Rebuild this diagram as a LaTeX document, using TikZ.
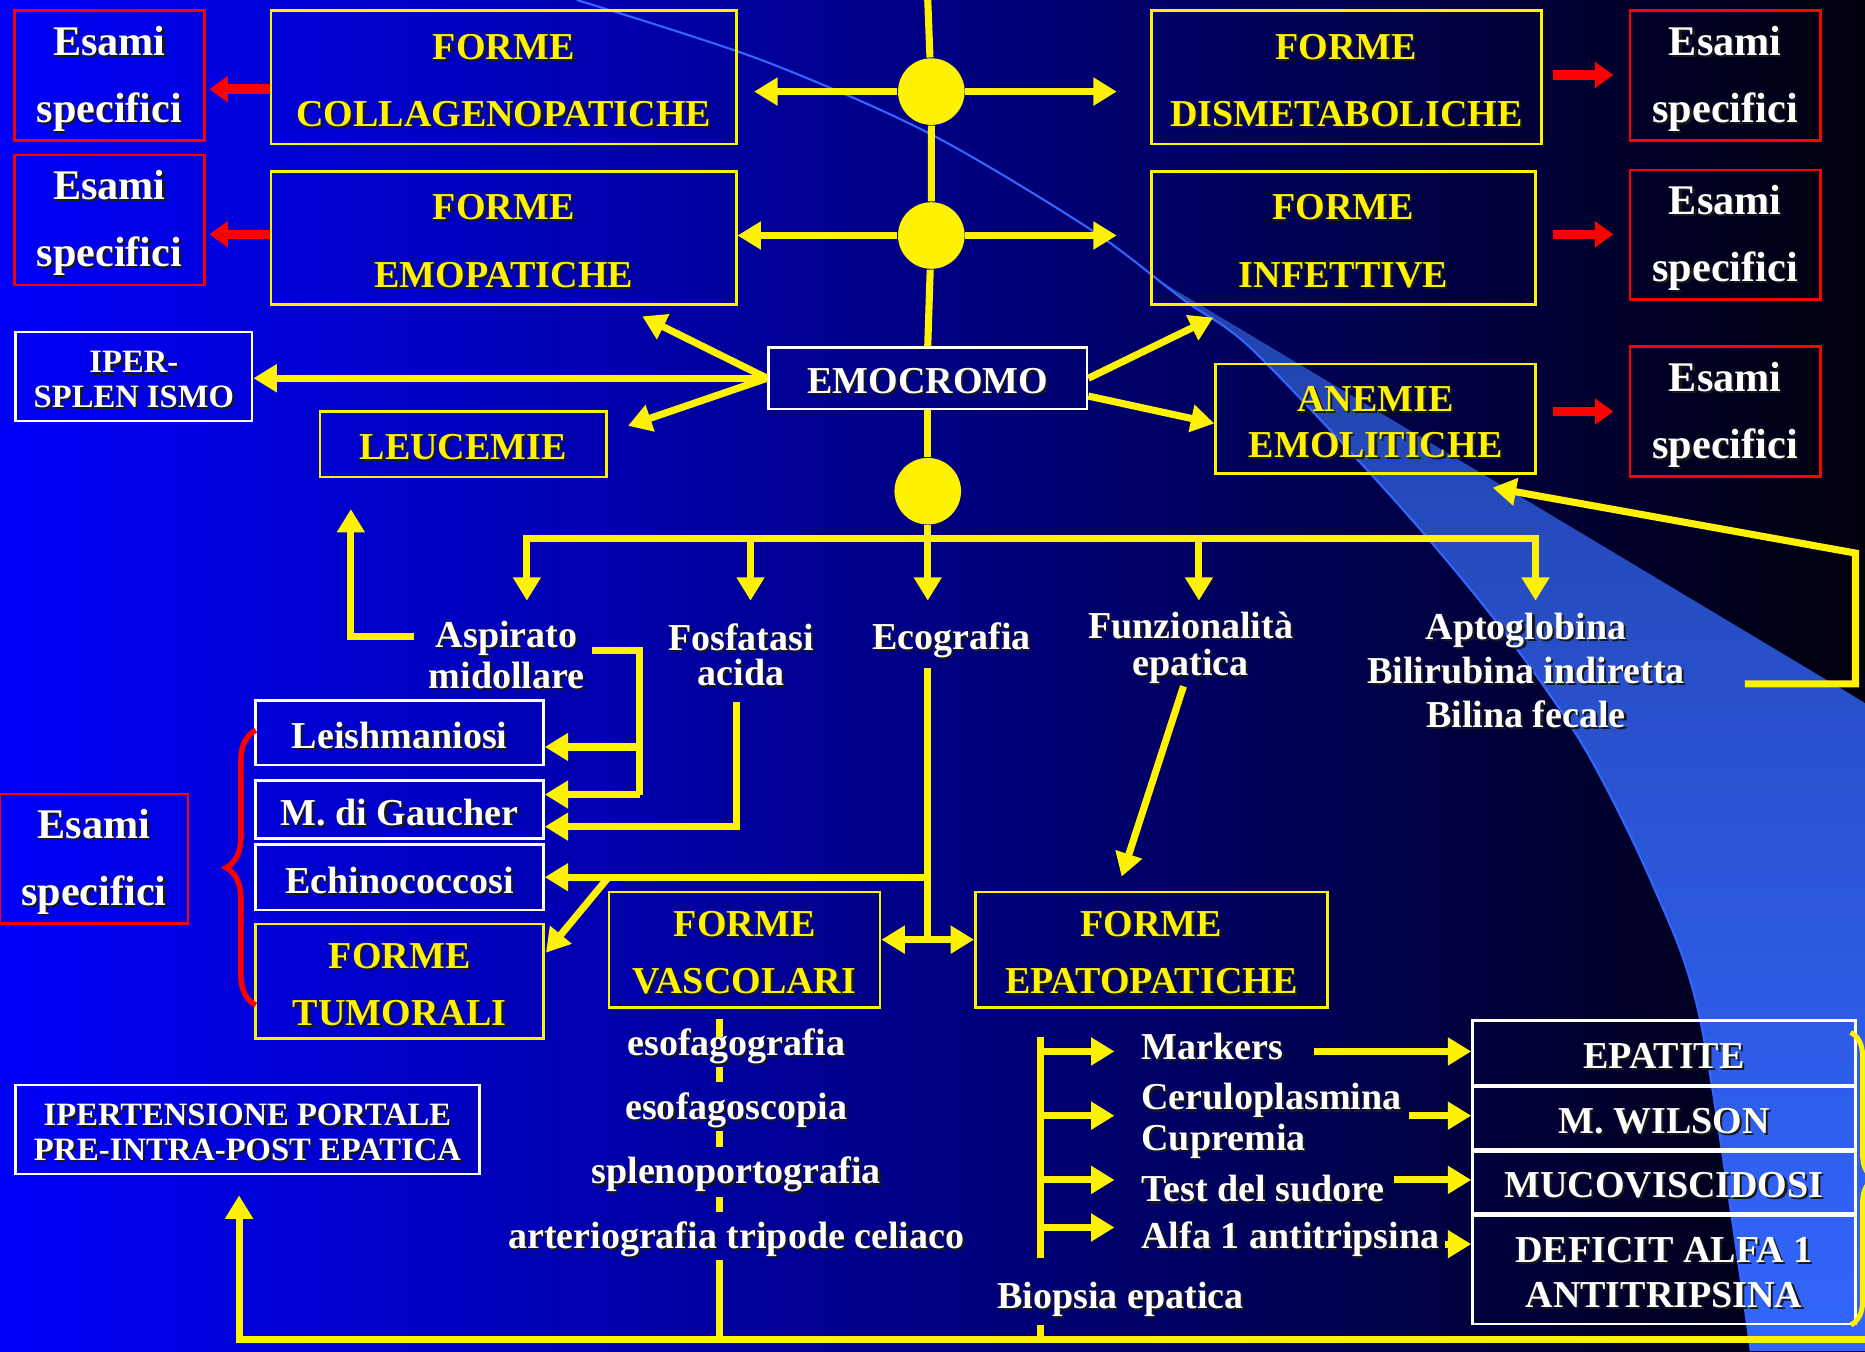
\documentclass[tikz,border=0pt]{standalone}
\usepackage{fontspec}
\setmainfont{Liberation Serif}
\usetikzlibrary{arrows.meta,decorations.pathreplacing}

\definecolor{bgleft}{RGB}{0,0,250}
\definecolor{bgmid}{RGB}{0,0,172}
\definecolor{bgright}{RGB}{0,0,12}
\definecolor{band}{RGB}{51,102,255}
\definecolor{txtshadow}{RGB}{25,25,25}

\newcommand{\shd}[1]{\leavevmode\raisebox{-1pt}[\height][\depth]{\rlap{\kern.5pt\raisebox{-.5pt}{\color{txtshadow}#1}}#1}}

\tikzset{ytip/.tip={Triangle[length=5.6pt,width=6.4pt]}}
\tikzset{rtip/.tip={Triangle[length=4.4pt,width=6pt]}}
\tikzset{yline/.style={yellow, line width=1.7pt}}
\tikzset{yarrow/.style={yline, -ytip}}
\tikzset{rarrow/.style={red, line width=2.3pt, -rtip}}
\tikzset{box/.style={line width=0.6pt, inner sep=0pt, align=center}}
\tikzset{ybox/.style={box, draw=yellow, text=yellow, font=\bfseries\fontsize{9.1}{16.2}\selectfont}}
\tikzset{wbox/.style={box, draw=white, text=white, font=\bfseries\fontsize{9.1}{10}\selectfont}}
\tikzset{rbox/.style={box, draw=red, text=white, minimum width=1.6cm, minimum height=1.09cm, font=\bfseries\fontsize{10.1}{16}\selectfont}}
\tikzset{lbl/.style={text=white, inner sep=0pt, align=center, font=\bfseries\fontsize{9.1}{8.5}\selectfont}}
\tikzset{hub/.style={circle, fill=yellow, minimum size=5.6mm, inner sep=0pt}}

\begin{document}
\begin{tikzpicture}[x=0.1mm,y=-0.1mm]
\useasboundingbox (0,0) rectangle (1568,1136);
\clip (0,0) rectangle (1568,1136);

% Background
\shade[left color=bgleft, middle color=bgmid, right color=bgright] (0,0) rectangle (1568,1136);
\shade[top color=band!65!bgright, bottom color=band] plot[smooth] coordinates {(970,233) (995,252) (1053,294) (1172,420) (1259,524) (1331,627) (1390,745) (1430,860) (1472,1136)} -- (1568,1136) -- (1568,591) -- cycle;
\draw[band, line width=0.5pt] plot[smooth] coordinates {(485,0) (639,50) (781,112) (917,193) (995,252) (1053,294) (1172,420) (1259,524) (1331,627) (1390,745) (1430,860) (1472,1136)};

% Upper forms
\node[rbox] (esamiA) at (92,63.5) {\shd{Esami}\\\shd{specifici}};
\node[rbox] (esamiB) at (92,185) {\shd{Esami}\\\shd{specifici}};
\node[ybox, minimum width=3.91cm, minimum height=1.12cm] (collag) at (423.5,65) {\shd{FORME}\\\shd{COLLAGENOPATICHE}};
\node[ybox, minimum width=3.91cm, minimum height=1.12cm] (emopat) at (423.5,200) {\shd{FORME}\\\shd{EMOPATICHE}};
\node[ybox, minimum width=3.28cm, minimum height=1.12cm] (dismet) at (1132,65) {\shd{FORME}\\\shd{DISMETABOLICHE}};
\node[ybox, minimum width=3.23cm, minimum height=1.12cm] (infett) at (1129.5,200) {\shd{FORME}\\\shd{INFETTIVE}};
\node[ybox, minimum width=2.69cm, minimum height=0.92cm, font=\bfseries\fontsize{9.1}{11}\selectfont] (anemie) at (1156.5,352) {\shd{ANEMIE}\\\shd{EMOLITICHE}};
\node[rbox] (esamiC) at (1450.5,63.5) {\shd{Esami}\\\shd{specifici}};
\node[rbox] (esamiD) at (1450.5,197.5) {\shd{Esami}\\\shd{specifici}};
\node[rbox] (esamiE) at (1450.5,346) {\shd{Esami}\\\shd{specifici}};

\node[wbox, minimum width=2.68cm, minimum height=0.52cm] (emocromo) at (780,318) {\shd{EMOCROMO}};
\node[wbox, minimum width=1.99cm, minimum height=0.75cm, font=\bfseries\fontsize{7.8}{8.2}\selectfont] (iper) at (112.5,316.5) {\shd{IPER-}\\\shd{SPLEN ISMO}};
\node[ybox, minimum width=2.41cm, minimum height=0.55cm] (leuc) at (389.5,373.5) {\shd{LEUCEMIE}};

\node[hub] (c1) at (783,77) {};
\node[hub] (c2) at (783,198) {};
\node[hub] (c3) at (780,413) {};

% Tests
\node[lbl] (aspir) at (426,548) {\shd{Aspirato}\\\shd{midollare}};
\node[lbl] (fosf) at (623,548) {\shd{Fosfatasi}\\\shd{acida}};
\node[lbl] (ecog) at (800,536) {\shd{Ecografia}};
\node[lbl, font=\bfseries\fontsize{9.1}{8.8}\selectfont] (funz) at (1001,542) {\shd{Funzionalità}\\\shd{epatica}};
\node[lbl, font=\bfseries\fontsize{9.1}{10.5}\selectfont] (apto) at (1283,561) {\shd{Aptoglobina}\\\shd{Bilirubina indiretta}\\\shd{Bilina fecale}};

% Left column
\node[wbox, minimum width=2.42cm, minimum height=0.54cm] (leish) at (336,616) {\shd{Leishmaniosi}};
\node[wbox, minimum width=2.42cm, minimum height=0.49cm] (gaucher) at (336,680.5) {\shd{M. di Gaucher}};
\node[wbox, minimum width=2.42cm, minimum height=0.55cm] (echino) at (336,737.5) {\shd{Echinococcosi}};
\node[ybox, minimum width=2.42cm, minimum height=0.96cm, font=\bfseries\fontsize{9.1}{13.7}\selectfont] (tumor) at (336,825) {\shd{FORME}\\\shd{TUMORALI}};
\node[rbox, minimum width=1.58cm] (esamiF) at (79,722) {\shd{Esami}\\\shd{specifici}};

\node[ybox, minimum width=2.28cm, minimum height=0.97cm, font=\bfseries\fontsize{9.1}{13.7}\selectfont] (vasc) at (626,798.5) {\shd{FORME}\\\shd{VASCOLARI}};
\node[ybox, minimum width=2.96cm, minimum height=0.97cm, font=\bfseries\fontsize{9.1}{13.7}\selectfont] (epato) at (968,798.5) {\shd{FORME}\\\shd{EPATOPATICHE}};

\node[lbl] (esof1) at (619,877) {\shd{esofagografia}};
\node[lbl] (esof2) at (619,931) {\shd{esofagoscopia}};
\node[lbl] (spleno) at (619,985) {\shd{splenoportografia}};
\node[lbl] (arterio) at (619,1039) {\shd{arteriografia tripode celiaco}};
\node[wbox, minimum width=3.9cm, minimum height=0.75cm, font=\bfseries\fontsize{7.8}{8.2}\selectfont] (ipert) at (208,949.5) {\shd{IPERTENSIONE PORTALE}\\\shd{PRE-INTRA-POST EPATICA}};

% Liver tests
\node[lbl, anchor=west] (markers) at (959,877) {\shd{Markers}};
\node[lbl, anchor=west, align=left] (cerulo) at (959,940) {\shd{Ceruloplasmina}\\\shd{Cupremia}};
\node[lbl, anchor=west] (sudore) at (959,997) {\shd{Test del sudore}};
\node[lbl, anchor=west] (alfa) at (959,1039) {\shd{Alfa 1 antitripsina}};
\node[lbl] (biopsia) at (942,1090) {\shd{Biopsia epatica}};

\node[wbox, minimum width=3.22cm, minimum height=0.54cm] (epatite) at (1399,885) {\shd{EPATITE}};
\node[wbox, minimum width=3.22cm, minimum height=0.52cm] (wilson) at (1399,940) {\shd{M. WILSON}};
\node[wbox, minimum width=3.22cm, minimum height=0.52cm] (muco) at (1399,994) {\shd{MUCOVISCIDOSI}};
\node[wbox, minimum width=3.22cm, minimum height=0.91cm, font=\bfseries\fontsize{9.1}{10.8}\selectfont] (deficit) at (1399,1067.5) {\shd{DEFICIT ALFA 1}\\\shd{ANTITRIPSINA}};

% Connectors
\coordinate (topC) at (780,0);
\draw[yline] (topC) -- (c1) -- (c2) -- (emocromo.north);
\draw[yarrow, shorten >=1.4mm] (c1) -- (collag.east |- c1);
\draw[yarrow, shorten >=2.8mm] (c1) -- (dismet.west |- c1);
\draw[yarrow] (c2) -- (emopat.east |- c2);
\draw[yarrow, shorten >=2.8mm] (c2) -- (infett.west |- c2);

\draw[rarrow, shorten >=0.3mm] (collag.west |- 0,75) -- (esamiA.east |- 0,75);
\draw[rarrow, shorten >=0.3mm] (emopat.west |- 0,197) -- (esamiB.east |- 0,197);
\draw[rarrow, shorten <=0.9mm, shorten >=1.3mm] (dismet.east |- 0,63) -- (esamiC.west |- 0,63);
\draw[rarrow, shorten <=1.4mm, shorten >=1.3mm] (infett.east |- 0,197) -- (esamiD.west |- 0,197);
\draw[rarrow, shorten <=1.4mm, shorten >=1.3mm] (anemie.east |- 0,346) -- (esamiE.west |- 0,346);

\coordinate (toEmo) at (540,266);
\coordinate (toLeu) at (528,358);
\coordinate (toInf) at (1020,267);
\draw[yarrow] (emocromo.west) -- (iper.east |- emocromo.west);
\draw[yarrow] (emocromo.west) -- (toEmo);
\draw[yarrow] (emocromo.west) -- (toLeu);
\draw[yarrow] (emocromo.east) -- (toInf);
\draw[yarrow] ([yshift=-1.5mm]emocromo.east) -- ([yshift=-0.4mm]anemie.west);

% Bus
\coordinate (busM) at (780,453);
\coordinate (tipL) at (443,505);
\coordinate (tipR) at (1291,505);
\draw[yline] (emocromo.south) -- (c3) -- (busM);
\draw[yline, ytip-ytip] (tipL) |- (busM) -| (tipR);
\foreach \x in {631,780,1008}
  \draw[yarrow] (\x,453) -- (\x,505);

\coordinate (aspL) at (348,535);
\coordinate (leuTip) at (295,428);
\draw[yarrow] (aspL) -| (leuTip);
\coordinate (aspR) at (498,547);
\coordinate (aspB) at (538,668);
\draw[yline] (aspR) -| (aspB);
\draw[yarrow] (aspB |- 0,628) -- (leish.east |- 0,628);
\draw[yarrow] (aspB) -- (gaucher.east |- aspB);
\coordinate (fosT) at (619,590);
\draw[yarrow] (fosT) |- (gaucher.east |- 0,695);

\coordinate (ecoT) at (780,562);
\coordinate (ecoB) at (780,790);
\coordinate (tumS) at (512,737);
\coordinate (tumTip) at (459,801);
\draw[yline] (ecoT) -- (ecoB);
\draw[yarrow] (ecoB |- echino.east) -- (echino.east);
\draw[yarrow] (tumS) -- (tumTip);
\draw[yline, ytip-ytip] (vasc.east |- ecoB) -- (epato.west |- ecoB);

\coordinate (funS) at (995,577);
\coordinate (funTip) at (943,737);
\draw[yarrow] (funS) -- (funTip);

\coordinate (aptR) at (1467,575);
\coordinate (aptC) at (1560,465);
\coordinate (aneTip) at (1255,410);
\draw[yarrow] (aptR) -| (aptC) -- (aneTip);

% Vascular tests
\foreach \a/\b in {857/872,897/910,951/964,1006/1019,1059/1126}
  \draw[yellow, line width=1.5pt] (605,\a) -- (605,\b);

% Liver tests
\draw[yline] (875,872) -- (875,1058);
\draw[yline] (875,1114) -- (875,1126);
\foreach \y in {884,938,992,1032}
  \draw[yarrow] (875,\y) -- (937,\y);
\draw[yarrow] (1105,884) -- (epatite.west |- 0,884);
\draw[yarrow] (1185,938) -- (wilson.west |- 0,938);
\draw[yarrow] (1172,992) -- (muco.west |- 0,992);
\draw[yarrow] (1215,1046) -- (deficit.west |- 0,1046);

% Bottom line
\coordinate (busE) at (1575,1126);
\coordinate (ipTip) at (201,1005);
\draw[yarrow] (busE) -| (ipTip);

% Braces
\draw[red, line width=1.3pt, decorate, decoration={brace, amplitude=2.5mm}] (215,845) -- (215,614);
\draw[yellow, line width=1.2pt, decorate, decoration={brace, amplitude=2mm}] (1556,868) -- (1556,1114);
\end{tikzpicture}
\end{document}
